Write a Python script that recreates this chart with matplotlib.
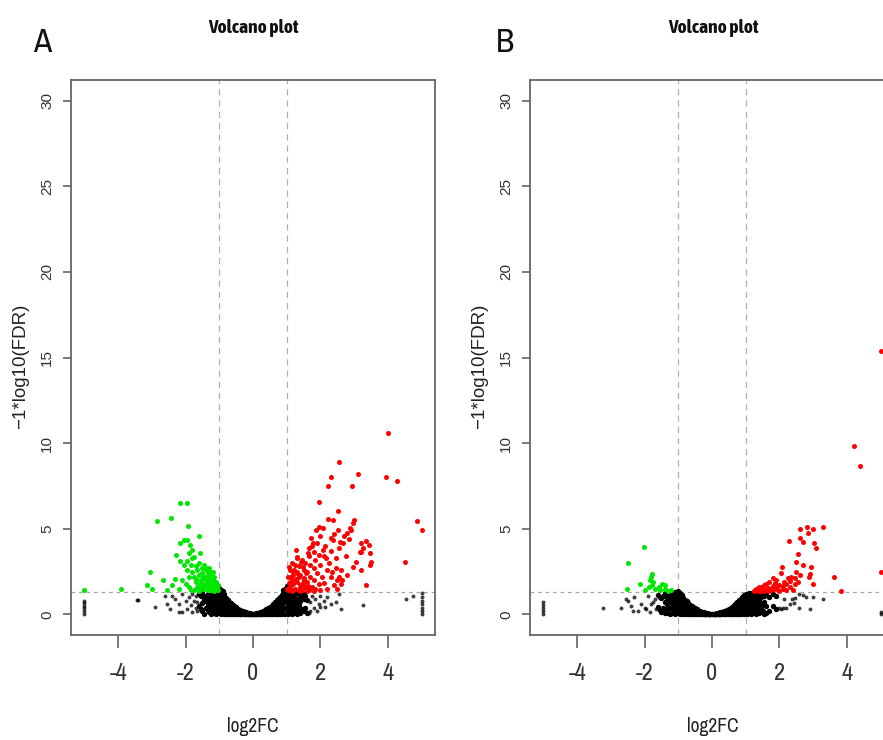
import matplotlib
matplotlib.use("Agg")
import matplotlib.pyplot as plt
from matplotlib import font_manager as fm

x_ticks = [-4, -2, 0, 2, 4]
x_tick_labels = ['-4', '-2', '0', '2', '4']
y_ticks = [0, 5, 10, 15, 20, 25, 30]
fc_cut = 1.0
fdr_cut = 1.3

# ---------------- panel A ----------------
a_red_x = [4.01, 2.55, 3.13, 2.30, 2.23, 2.93, 3.94, 4.28, 1.97, 4.87, 5.0, 4.51, 2.51, 2.22, 2.38,
           3.01, 2.96, 2.87, 2.80, 2.92, 2.52, 2.30, 2.37, 2.57, 2.67, 1.97, 2.07, 1.87, 1.72, 1.77,
           1.67, 1.62, 1.82, 1.97, 2.07, 2.17, 1.27, 1.32, 1.42, 1.47, 1.22, 1.12, 1.17, 1.37, 1.57,
           1.07, 1.47, 2.20, 2.30, 2.45, 2.55, 2.65, 2.10, 2.40, 2.50, 3.21, 3.26, 3.44, 3.16, 3.46,
           3.51, 3.21, 3.06, 2.96, 3.36, 3.21, 3.46, 3.36,
           1.05, 1.05, 1.10, 1.10, 1.15, 1.15, 1.20, 1.20, 1.25, 1.25, 1.30, 1.30, 1.35, 1.35, 1.40,
           1.40, 1.45, 1.45, 1.50, 1.50, 1.55, 1.55, 1.60, 1.60, 1.65, 1.65, 1.70, 1.70, 1.75, 1.75,
           1.80, 1.80, 1.85, 1.85, 1.90, 1.90, 1.95, 2.00, 2.00, 2.05, 2.10, 2.15, 2.20, 2.25, 2.30,
           2.35, 2.40, 2.45, 2.50, 2.55, 2.60, 2.70, 2.75, 2.80, 2.85, 2.60, 2.00, 1.30, 1.00, 1.10,
           1.20, 1.40, 1.60, 1.80, 1.12, 1.18, 1.28, 1.38, 1.52, 1.62, 1.08, 1.22, 1.33, 1.48]
a_red_y = [10.6, 8.9, 8.2, 8.0, 7.5, 7.47, 8.04, 7.78, 6.55, 5.47, 4.93, 3.07, 6.06, 5.6, 5.5,
           5.51, 5.32, 5.03, 4.73, 4.93, 4.93, 4.44, 4.34, 4.24, 4.15, 5.13, 5.03, 4.93, 4.44, 4.15,
           3.86, 3.57, 3.67, 3.47, 3.76, 3.28, 3.76, 3.37, 3.08, 2.79, 2.60, 2.21, 2.01, 2.21, 2.40,
           1.82, 1.72, 2.60, 2.21, 2.70, 2.21, 2.01, 1.82, 1.72, 2.01, 4.15, 3.86, 4.05, 3.67, 3.57,
           3.08, 2.60, 3.08, 2.79, 1.72, 3.65, 2.87, 4.30,
           1.40, 2.20, 1.60, 2.60, 1.35, 3.00, 1.80, 2.30, 1.50, 2.90, 1.90, 2.50, 1.40, 2.80, 1.70,
           2.30, 1.45, 3.20, 2.00, 2.60, 1.60, 3.00, 1.90, 2.50, 1.40, 3.40, 2.20, 2.90, 1.60, 4.00,
           2.00, 2.70, 3.20, 1.50, 2.40, 4.20, 1.80, 2.90, 4.60, 2.20, 3.40, 4.00, 1.50, 3.00, 3.70,
           2.50, 4.70, 3.30, 1.50, 3.90, 2.60, 4.60, 3.40, 2.30, 4.40, 1.80, 1.40, 3.30, 1.50, 1.90,
           1.40, 1.35, 1.35, 1.35, 1.75, 2.45, 2.05, 1.55, 2.15, 1.65, 2.75, 1.95, 2.35, 1.85]

a_green_x = [-2.16, -1.96, -2.86, -2.43, -1.93, -1.61, -2.18, -2.06, -1.96, -1.86, -1.81, -1.91,
             -1.76, -1.56, -2.28, -2.18, -2.06, -1.96, -3.05, -3.15, -3.00, -2.66, -2.56, -2.31,
             -2.21, -2.11, -3.92, -5.00,
             -1.85, -1.80, -1.75, -1.70, -1.70, -1.65, -1.65, -1.60, -1.60, -1.55, -1.55, -1.50,
             -1.50, -1.50, -1.45, -1.45, -1.45, -1.40, -1.40, -1.40, -1.35, -1.35, -1.35, -1.30,
             -1.30, -1.30, -1.25, -1.25, -1.25, -1.20, -1.20, -1.20, -1.15, -1.15, -1.15, -1.10,
             -1.10, -1.05, -1.05, -1.90, -1.90, -2.00, -1.75, -1.85, -1.60, -2.40, -1.95, -1.80,
             -1.58, -1.48, -1.38, -1.28, -1.18, -1.08, -1.68, -1.52, -1.42, -1.32]
a_green_y = [6.53, 6.53, 5.47, 5.65, 5.16, 4.57, 4.18, 4.34, 4.34, 4.05, 3.75, 3.56,
             3.36, 3.60, 3.46, 3.13, 2.87, 2.58, 2.48, 1.70, 1.51, 2.04, 1.41, 2.09,
             1.51, 2.00, 1.47, 1.41,
             2.90, 2.50, 2.20, 2.80, 1.90, 2.60, 1.60, 3.00, 2.30, 2.00, 1.50, 2.70,
             2.40, 1.80, 2.90, 2.10, 1.50, 2.60, 2.20, 1.70, 2.40, 1.90, 1.40, 2.70,
             2.10, 1.60, 2.30, 1.80, 1.40, 2.50, 2.00, 1.50, 2.20, 1.70, 1.35, 1.90,
             1.50, 1.70, 1.40, 2.20, 1.60, 1.80, 1.40, 1.40, 1.35, 1.70, 3.10, 3.30,
             1.75, 2.25, 1.95, 2.45, 1.85, 1.55, 2.05, 1.65, 2.75, 1.45]

# black cloud of panel A, one row per log2FC column: (x, [y values])
a_black_cols = [
    (-1.60, [0.50, 1.20]), (-1.55, [0.30, 1.05]),
    (-1.50, [0.20, 0.65, 1.25]), (-1.45, [0.05, 0.85]),
    (-1.40, [0.40, 0.80, 1.10]), (-1.35, [0.25, 0.60, 1.20]),
    (-1.30, [0.15, 0.50, 0.90, 1.28]), (-1.25, [0.05, 0.35, 0.75, 1.05]),
    (-1.20, [0.10, 0.35, 0.70, 1.00, 1.25]), (-1.15, [0.20, 0.50, 0.85, 1.15]),
    (-1.10, [0.05, 0.30, 0.60, 0.90, 1.15, 1.30]), (-1.05, [0.20, 0.50, 0.80, 1.10, 1.40]),
    (-1.00, [0.10, 0.40, 0.70, 1.00, 1.30, 1.55]), (-0.95, [0.05, 0.30, 0.60, 0.90, 1.20, 1.45]),
    (-0.90, [0.10, 0.35, 0.65, 0.95, 1.20, 1.35]), (-0.85, [0.05, 0.30, 0.55, 0.80, 1.05, 1.18]),
    (-0.80, [0.05, 0.25, 0.50, 0.75, 0.95]), (-0.75, [0.05, 0.25, 0.45, 0.65, 0.85]),
    (-0.70, [0.05, 0.20, 0.40, 0.60, 0.75]), (-0.65, [0.05, 0.20, 0.35, 0.50, 0.65]),
    (-0.60, [0.05, 0.18, 0.32, 0.45, 0.58]), (-0.55, [0.04, 0.15, 0.28, 0.40, 0.50]),
    (-0.50, [0.04, 0.14, 0.25, 0.35, 0.43]), (-0.45, [0.03, 0.12, 0.22, 0.33]),
    (-0.40, [0.03, 0.10, 0.18, 0.27]), (-0.35, [0.02, 0.09, 0.15, 0.22]),
    (-0.30, [0.02, 0.08, 0.13, 0.18]), (-0.25, [0.02, 0.06, 0.10, 0.14]),
    (-0.20, [0.01, 0.05, 0.09, 0.12]), (-0.15, [0.01, 0.04, 0.07]),
    (-0.10, [0.01, 0.03, 0.06]), (-0.05, [0.01, 0.03]), (0.00, [0.00, 0.02]),
    (0.05, [0.01, 0.03]), (0.10, [0.01, 0.04, 0.06]), (0.15, [0.01, 0.04, 0.08]),
    (0.20, [0.01, 0.05, 0.10, 0.13]), (0.25, [0.02, 0.06, 0.11, 0.16]),
    (0.30, [0.02, 0.08, 0.14, 0.20]), (0.35, [0.02, 0.09, 0.17, 0.25]),
    (0.40, [0.03, 0.11, 0.20, 0.30]), (0.45, [0.03, 0.13, 0.24, 0.36]),
    (0.50, [0.04, 0.15, 0.28, 0.42]), (0.55, [0.04, 0.17, 0.32, 0.48]),
    (0.60, [0.05, 0.20, 0.37, 0.55, 0.62]), (0.65, [0.05, 0.22, 0.40, 0.58, 0.72]),
    (0.70, [0.05, 0.25, 0.45, 0.65, 0.82]), (0.75, [0.05, 0.27, 0.50, 0.72, 0.92]),
    (0.80, [0.05, 0.30, 0.55, 0.80, 1.02]), (0.85, [0.05, 0.30, 0.60, 0.88, 1.12]),
    (0.90, [0.10, 0.35, 0.65, 0.95, 1.25, 1.40]), (0.95, [0.05, 0.35, 0.70, 1.00, 1.30, 1.50]),
    (1.00, [0.10, 0.40, 0.75, 1.05, 1.35, 1.65]), (1.05, [0.05, 0.30, 0.60, 0.90, 1.20]),
    (1.10, [0.10, 0.40, 0.70, 1.00, 1.25]), (1.15, [0.05, 0.30, 0.60, 0.95, 1.20]),
    (1.20, [0.10, 0.45, 0.80, 1.10, 1.28]), (1.25, [0.25, 0.60, 0.95, 1.20]),
    (1.30, [0.05, 0.35, 0.70, 1.25]), (1.35, [0.20, 0.55, 0.90]),
    (1.40, [0.10, 0.80, 1.15]), (1.45, [0.30, 1.00]),
    (1.50, [0.20, 0.90, 1.20]), (1.55, [0.40, 1.05]),
    (1.60, [0.10, 0.85]),
]
a_black_x = [-5.0, -5.0, -5.0, -5.0, -5.0, -5.0, 5.0, 5.0, 5.0, 5.0, 5.0, 5.0, 5.0,
             -3.45, -3.40, -2.90, -2.56, -2.46, -2.21, -2.11, -2.60, -2.40, -2.30, -2.20, -2.10,
             -2.00, -1.95, -1.90, -1.85, -1.80, -1.80, -1.75, -1.70, -1.70, -1.65, -1.65,
             1.70, 1.70, 1.75, 1.80, 1.85, 1.90, 1.95, 2.00, 2.00, 2.15, 2.10, 2.20, 2.30, 2.45,
             2.55, 3.27, 4.55, 4.75, 2.60, 1.65]
a_black_y = [0.05, 0.20, 0.35, 0.50, 0.65, 0.80, 0.05, 0.20, 0.40, 0.60, 0.80, 1.00, 1.25,
             0.82, 0.85, 0.43, 0.62, 0.33, 0.14, 0.14, 1.05, 1.10, 0.90, 0.60, 1.20,
             0.80, 0.30, 1.00, 0.55, 0.15, 1.20, 0.80, 0.40, 1.10, 0.20, 0.70,
             0.20, 0.70, 1.10, 0.40, 0.90, 0.20, 0.60, 1.10, 0.43, 0.43, 0.80, 1.00, 0.60, 0.73,
             1.20, 0.53, 0.92, 1.10, 0.30, 0.10]

# ---------------- panel B ----------------
b_red_x = [4.21, 4.38, 5.0, 5.0, 2.60, 2.81, 2.99, 3.29, 2.84, 2.60, 2.70, 2.28, 3.04, 3.10,
           2.55, 2.50, 2.70, 2.95, 2.92, 2.87, 2.99, 2.08, 3.63, 3.82, 2.50, 2.45, 2.60, 2.55,
           1.25, 1.30, 1.35, 1.40, 1.45, 1.50, 1.55, 1.60, 1.65, 1.70, 1.75, 1.80, 1.85, 1.90,
           1.95, 2.00, 2.05, 2.10, 2.15, 2.20, 2.25, 2.30, 2.35, 2.40, 2.45, 1.55, 1.70, 1.90,
           2.00, 2.20, 1.40, 1.80, 1.60, 1.28, 1.48, 1.68, 1.88, 2.12, 2.32, 1.38, 1.78]
b_red_y = [9.85, 8.68, 2.46, 15.4, 4.99, 5.12, 4.97, 5.12, 4.73, 4.44, 4.24, 4.28, 4.18, 3.85,
           3.52, 3.07, 2.87, 2.77, 2.39, 2.19, 1.80, 2.77, 2.19, 1.37, 2.50, 2.10, 2.30, 1.90,
           1.35, 1.50, 1.40, 1.60, 1.35, 1.50, 1.70, 1.40, 1.55, 1.90, 1.40, 1.65, 1.50, 2.00,
           1.40, 1.70, 2.40, 1.50, 1.90, 1.40, 2.10, 1.60, 2.20, 1.45, 1.80, 1.35, 1.50, 1.60,
           1.35, 1.75, 1.35, 2.10, 1.75, 1.42, 1.62, 1.38, 1.82, 1.65, 1.95, 1.48, 1.55]

b_green_x = [-2.03, -2.48, -1.78, -1.83, -1.78, -1.88, -2.13, -1.98, -1.68, -1.58, -1.48,
             -1.38, -1.53, -1.23, -2.51, -1.80, -1.75, -1.40, -1.30]
b_green_y = [3.95, 3.03, 2.39, 1.99, 1.70, 1.60, 1.80, 1.41, 1.51, 1.60, 1.80,
             1.70, 1.41, 1.41, 1.51, 2.20, 1.90, 1.50, 1.35]

b_black_cols = [
    (-1.60, [0.45, 1.15]), (-1.55, [0.25, 1.00]),
    (-1.50, [0.15, 0.95]), (-1.45, [0.40, 1.10]),
    (-1.40, [0.10, 0.75, 1.25]), (-1.35, [0.25, 0.60, 0.90]),
    (-1.30, [0.10, 0.45, 0.80, 1.10, 1.28]), (-1.25, [0.05, 0.35, 0.70, 1.00, 1.25]),
    (-1.20, [0.10, 0.35, 0.65, 0.95, 1.20]), (-1.15, [0.20, 0.50, 0.80, 1.10, 1.28]),
    (-1.10, [0.05, 0.30, 0.60, 0.90, 1.15, 1.30]), (-1.05, [0.20, 0.50, 0.80, 1.05, 1.30]),
    (-1.00, [0.10, 0.40, 0.70, 0.95, 1.20, 1.35]), (-0.95, [0.05, 0.30, 0.55, 0.80, 1.05, 1.25]),
    (-0.90, [0.10, 0.30, 0.55, 0.80, 1.05, 1.15]), (-0.85, [0.05, 0.25, 0.50, 0.75, 0.95]),
    (-0.80, [0.05, 0.25, 0.45, 0.65, 0.85]), (-0.75, [0.05, 0.22, 0.40, 0.58, 0.76]),
    (-0.70, [0.05, 0.20, 0.35, 0.52, 0.67]), (-0.65, [0.05, 0.18, 0.32, 0.46, 0.58]),
    (-0.60, [0.04, 0.16, 0.28, 0.40, 0.50]), (-0.55, [0.04, 0.14, 0.25, 0.35, 0.44]),
    (-0.50, [0.04, 0.12, 0.22, 0.30, 0.37]), (-0.45, [0.03, 0.11, 0.19, 0.29]),
    (-0.40, [0.03, 0.09, 0.16, 0.23]), (-0.35, [0.02, 0.08, 0.13, 0.19]),
    (-0.30, [0.02, 0.07, 0.11, 0.15]), (-0.25, [0.02, 0.05, 0.09, 0.12]),
    (-0.20, [0.01, 0.04, 0.08, 0.10]), (-0.15, [0.01, 0.04, 0.06]),
    (-0.10, [0.01, 0.03, 0.05]), (-0.05, [0.01, 0.02]), (0.00, [0.00, 0.02]),
    (0.05, [0.01, 0.02]), (0.10, [0.01, 0.03, 0.05]), (0.15, [0.01, 0.04, 0.06]),
    (0.20, [0.01, 0.04, 0.08, 0.10]), (0.25, [0.02, 0.05, 0.09, 0.12]),
    (0.30, [0.02, 0.07, 0.11, 0.15]), (0.35, [0.02, 0.08, 0.13, 0.19]),
    (0.40, [0.03, 0.09, 0.16, 0.23]), (0.45, [0.03, 0.11, 0.19, 0.28]),
    (0.50, [0.04, 0.12, 0.22, 0.33]), (0.55, [0.04, 0.14, 0.26, 0.38]),
    (0.60, [0.04, 0.16, 0.29, 0.43]), (0.65, [0.05, 0.18, 0.33, 0.48, 0.55]),
    (0.70, [0.05, 0.20, 0.37, 0.54, 0.64]), (0.75, [0.05, 0.22, 0.41, 0.60, 0.72]),
    (0.80, [0.05, 0.25, 0.45, 0.66, 0.82]), (0.85, [0.05, 0.27, 0.50, 0.72, 0.92]),
    (0.90, [0.10, 0.30, 0.55, 0.80, 1.02]), (0.95, [0.05, 0.32, 0.60, 0.88, 1.12]),
    (1.00, [0.10, 0.35, 0.65, 0.95, 1.20]), (1.05, [0.05, 0.30, 0.60, 0.90, 1.20]),
    (1.10, [0.10, 0.40, 0.70, 1.00, 1.25]), (1.15, [0.05, 0.30, 0.60, 0.95, 1.20]),
    (1.20, [0.10, 0.45, 0.80, 1.10, 1.28]), (1.25, [0.25, 0.60, 0.95, 1.20]),
    (1.30, [0.05, 0.35, 0.70, 1.00, 1.25]), (1.35, [0.20, 0.55, 0.90, 1.15]),
    (1.40, [0.10, 0.45, 0.80, 1.15]), (1.45, [0.30, 0.65, 1.00]),
    (1.50, [0.20, 0.55, 1.20]), (1.55, [0.05, 0.75, 1.05]),
    (1.60, [0.10, 0.50, 1.25]), (1.70, [0.20, 1.00]),
    (1.80, [0.50, 1.20]), (1.90, [0.30, 1.10]),
]
b_black_x = [-5.0, -5.0, -5.0, -5.0, -5.0, 5.0, 5.0,
             -3.24, -2.70, -2.55, -2.35, -2.10, -1.95, -1.75, -2.50, -2.40, -2.30, -2.20,
             -2.00, -1.90, -1.85, -1.80, -1.70, -1.65,
             2.00, 2.05, 2.10, 2.20, 2.58, 2.90, 2.37, 2.47, 2.58, 2.70, 2.99, 2.42, 2.30,
             2.15, 3.30, 2.80]
b_black_y = [0.05, 0.20, 0.35, 0.55, 0.72, 0.05, 0.15,
             0.39, 0.39, 0.92, 0.20, 0.60, 0.30, 0.70, 0.80, 0.50, 1.00, 0.20,
             0.40, 1.10, 0.15, 0.60, 0.90, 0.30,
             0.35, 0.30, 0.40, 0.35, 0.39, 0.30, 0.88, 0.98, 1.18, 1.14, 1.03, 0.69, 0.60,
             0.90, 0.90, 1.00]

W, H = 883, 740
WEIGHT_WORDS = ('semibold', 'extrabold', 'light', 'thin', 'medium', 'black', 'heavy')


def narrow_font(bold, size):
    # look for an installed narrow/condensed sans face, else plain Liberation Sans
    best = None
    for f in fm.fontManager.ttflist:
        fn = f.fname.lower()
        nm = f.name.lower()
        if 'mono' in fn or 'serif' in fn or 'italic' in fn or 'oblique' in fn or 'cjk' in fn:
            continue
        if 'semicondensed' in fn or 'semi-condensed' in fn or 'extracondensed' in fn:
            continue
        if not ('narrow' in fn or 'condensed' in fn or 'narrow' in nm or 'condensed' in nm):
            continue
        if any(w in fn for w in WEIGHT_WORDS):
            continue
        if ('bold' in fn) != bold:
            continue
        if 'liberation' in fn:
            rank = 0
        elif 'dejavu' in fn:
            rank = 3
        else:
            rank = 1
        if best is None or rank < best[0]:
            best = (rank, f.fname)
    if best:
        return fm.FontProperties(fname=best[1], size=size)
    return fm.FontProperties(family=['Liberation Sans', 'DejaVu Sans'],
                             weight='bold' if bold else 'normal', size=size)


def expand(cols):
    xs, ys = [], []
    for cx, col in cols:
        for cy in col:
            xs.append(cx)
            ys.append(cy)
    return xs, ys


def volcano(ax, black_cols, black_x, black_y, red_x, red_y, green_x, green_y):
    vx, vy = expand(black_cols)
    ax.scatter(vx, vy, s=15, c='black', linewidths=0, zorder=2)
    ax.scatter(black_x, black_y, s=8, c='black', alpha=0.75, linewidths=0, zorder=2)
    ax.scatter(red_x, red_y, s=13, c='#ff0000', linewidths=0, zorder=3)
    ax.scatter(green_x, green_y, s=13, c='#00e800', linewidths=0, zorder=3)

    for v in (-fc_cut, fc_cut):
        ax.axvline(v, color='#b0b0b0', ls=(0, (5, 4)), lw=0.9, zorder=1)
    ax.axhline(fdr_cut, color='#a8a8a8', ls=(0, (3, 3)), lw=0.9, zorder=1)

    ax.set_xlim(-5.4, 5.4)
    ax.set_ylim(-1.2, 31.2)
    ax.set_xticks(x_ticks)
    ax.set_xticklabels(x_tick_labels, fontproperties=narrow_font(False, 17.5), color='#333333')
    ax.set_yticks(y_ticks)
    ax.set_yticklabels([str(t) for t in y_ticks], fontsize=11,
                       family=['Liberation Sans', 'DejaVu Sans'],
                       rotation=90, va='center', color='#333333')
    ax.tick_params(axis='x', length=9, width=1.1, color='#555555', pad=11)
    ax.tick_params(axis='y', length=6, width=1.1, color='#555555', pad=6)
    for sp in ax.spines.values():
        sp.set_color('#666666')
        sp.set_linewidth(1.3)


fig = plt.figure(figsize=(W / 100, H / 100), dpi=100)
ax_a = fig.add_axes([71 / W, 1 - 635 / H, 364 / W, 555 / H])
ax_b = fig.add_axes([530 / W, 1 - 635 / H, 364 / W, 555 / H])

volcano(ax_a, a_black_cols, a_black_x, a_black_y, a_red_x, a_red_y, a_green_x, a_green_y)
volcano(ax_b, b_black_cols, b_black_x, b_black_y, b_red_x, b_red_y, b_green_x, b_green_y)

for letter, lx, cx, ylx in (('A', 42, 253, 21), ('B', 505, 713, 480)):
    fig.text(lx / W, 1 - 43 / H, letter, fontproperties=narrow_font(False, 24),
             ha='center', va='center', color='#111111')
    fig.text(cx / W, 1 - 28 / H, 'Volcano plot', fontproperties=narrow_font(True, 14),
             ha='center', va='center', color='#111111')
    fig.text(cx / W, 1 - 727 / H, 'log2FC', fontproperties=narrow_font(False, 14),
             ha='center', va='center', color='#222222')
    fig.text(ylx / W, 1 - 366 / H, '\u22121*log10(FDR)', fontsize=13.5,
             family=['Liberation Sans', 'DejaVu Sans'],
             rotation=90, ha='center', va='center', color='#222222')

fig.savefig('out.png', dpi=100)
